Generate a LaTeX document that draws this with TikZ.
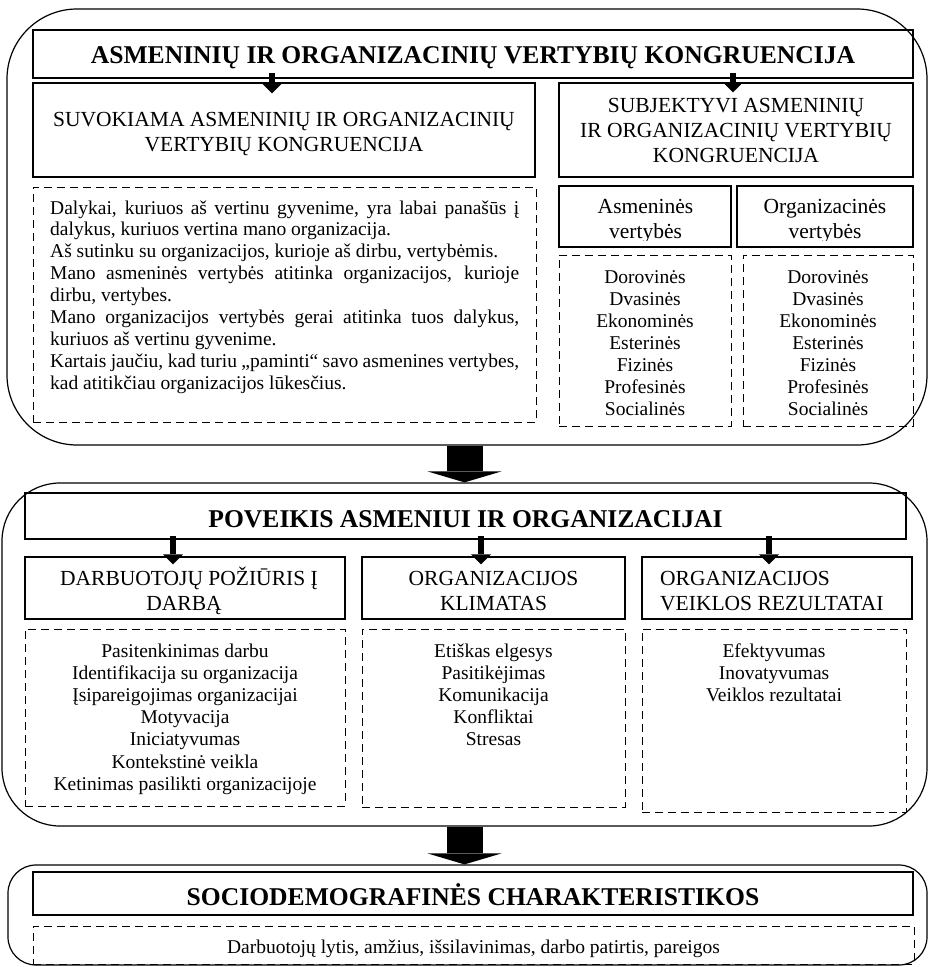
\documentclass[tikz,border=0pt]{standalone}
\usepackage{fontspec}
\setmainfont{Liberation Serif}
\usetikzlibrary{arrows.meta,fit}

% type sizes
\newcommand\ftitle{\fontsize{25.6pt}{30pt}\selectfont\bfseries}
\newcommand\fhead{\fontsize{21.5pt}{25pt}\selectfont}
\newcommand\fitem{\fontsize{19.5pt}{22pt}\selectfont}
\newcommand\fpara{\fontsize{19.5pt}{21.9pt}\selectfont}
% stacked lines, baseline on the first line
\newcommand\cstack[1]{\begin{tabular}[t]{@{}c@{}}#1\end{tabular}}
\newcommand\lstack[1]{\begin{tabular}[t]{@{}l@{}}#1\end{tabular}}

\begin{document}
\begin{tikzpicture}[x=1pt,y=-1pt,
  frame/.style={draw, line width=1.2pt, rounded corners=#1, inner sep=0pt},
  titlebox/.style={draw, line width=2pt, inner sep=0pt},
  headbox/.style={draw, line width=1.2pt, inner sep=0pt},
  listbox/.style={draw, line width=1pt, dash pattern=on 8pt off 5pt, inner sep=0pt},
  txt/.style={inner sep=0pt, anchor=base},
  smallarrow/.style={line width=6.5pt, -{Triangle[width=20pt,length=10pt,line width=0pt]}},
  bigarrow/.style={line width=36pt, -{Triangle[width=74pt,length=11pt,line width=0pt]}}
]
\useasboundingbox (0,0) rectangle (928,967);

% ---------- block 1 ----------
\node[frame=70pt, fit={(7,9) (927,445)}] (f1) {};
\node[titlebox, fit={(33,30) (913,78)}] (t1) {};
\node[txt, font=\ftitle] (t1txt) at (473,63) {ASMENINIŲ IR ORGANIZACINIŲ VERTYBIŲ KONGRUENCIJA};

\node[headbox, fit={(33,83) (535,177)}] (suv) {};
\node[txt, font=\fhead] (suvtxt) at (284,126) {\cstack{SUVOKIAMA ASMENINIŲ IR ORGANIZACINIŲ\\VERTYBIŲ KONGRUENCIJA}};

\node[headbox, fit={(559,83) (913,177)}] (subj) {};
\node[txt, font=\fhead] (subjtxt) at (736,112) {\cstack{SUBJEKTYVI ASMENINIŲ\\IR ORGANIZACINIŲ VERTYBIŲ\\KONGRUENCIJA}};

\node[listbox, fit={(33,187) (536,422)}] (suvd) {};
\node[inner sep=0pt, anchor=base west, font=\fpara] (suvlist) at (50,214) {\parbox[t]{469pt}{\setlength\parindent{0pt}%
\makebox[469pt][s]{Dalykai, kuriuos aš vertinu gyvenime, yra labai panašūs į}\\
dalykus, kuriuos vertina mano organizacija.\\
Aš sutinku su organizacijos, kurioje aš dirbu, vertybėmis.\\
\makebox[469pt][s]{Mano asmeninės vertybės atitinka organizacijos, kurioje}\\
dirbu, vertybes.\\
\makebox[469pt][s]{Mano organizacijos vertybės gerai atitinka tuos dalykus,}\\
kuriuos aš vertinu gyvenime.\\
\makebox[469pt][s]{Kartais jaučiu, kad turiu „paminti“ savo asmenines vertybes,}\\
kad atitikčiau organizacijos lūkesčius.}};

% small value boxes; their lower text line is cut at the baseline
\node[headbox, fit={(559,186) (731,247)}] (asm) {};
\node[headbox, fit={(737,186) (913,247)}] (org) {};
\begin{scope}
  \clip (asm.north west) rectangle ([yshift=7.5pt]asm.south east);
  \node[txt, font=\fhead] (asmtxt) at (645.5,213.5) {\cstack{Asmeninės\\vertybės}};
\end{scope}
\begin{scope}
  \clip (org.north west) rectangle ([yshift=7.5pt]org.south east);
  \node[txt, font=\fhead] (orgtxt) at (825,213.5) {\cstack{Organizacinės\\vertybės}};
\end{scope}

\node[listbox, fit={(559,255) (731,426)}] (asmd) {};
\node[listbox, fit={(743,255) (913,426)}] (orgd) {};
\node[txt, font=\fitem] (asmlist) at (645,283) {\cstack{Dorovinės\\Dvasinės\\Ekonominės\\Esterinės\\Fizinės\\Profesinės\\Socialinės}};
\node[txt, font=\fitem] (orglist) at (828,283) {\cstack{Dorovinės\\Dvasinės\\Ekonominės\\Esterinės\\Fizinės\\Profesinės\\Socialinės}};

\draw[smallarrow] ([xshift=-12pt,yshift=6pt]t1.south -| suv.north) -- ([xshift=-12pt,yshift=-11pt]suv.north);
\draw[smallarrow] ([xshift=-3pt,yshift=6pt]t1.south -| subj.north) -- ([xshift=-3pt,yshift=-10pt]subj.north);

% ---------- block 2 ----------
\node[frame=58pt, fit={(2,483) (927,826)}] (f2) {};
\node[titlebox, fit={(25,493) (906,539)}] (t2) {};
\node[txt, font=\ftitle] (t2txt) at (465.5,527) {POVEIKIS ASMENIUI IR ORGANIZACIJAI};

\node[headbox, fit={(25,557) (345,619)}] (darb) {};
\node[headbox, fit={(362,557) (625,619)}] (klim) {};
\node[headbox, fit={(642,557) (912,619)}] (veik) {};
\node[txt, font=\fhead] (darbtxta) at (189,585) {DARBUOTOJŲ POŽIŪRIS Į};
\node[txt, font=\fhead] (darbtxtb) at (184,610) {DARBĄ};
\node[txt, font=\fhead] (klimtxt) at (493.5,585) {\cstack{ORGANIZACIJOS\\KLIMATAS}};
\node[txt, anchor=base west, font=\fhead] (veiktxt) at (660,585) {\lstack{ORGANIZACIJOS\\VEIKLOS REZULTATAI}};

\node[listbox, fit={(25,629) (345,806)}] (darbd) {};
\node[listbox, fit={(362,629) (625,807)}] (klimd) {};
\node[listbox, fit={(642,629) (906,812)}] (veikd) {};
\node[txt, font=\fontsize{19.5pt}{22.2pt}\selectfont] (darblist) at (185,657) {\cstack{Pasitenkinimas darbu\\Identifikacija su organizacija\\Įsipareigojimas organizacijai\\Motyvacija\\Iniciatyvumas\\Kontekstinė veikla\\Ketinimas pasilikti organizacijoje}};
\node[txt, font=\fontsize{19.5pt}{22.2pt}\selectfont] (klimlist) at (493.5,657) {\cstack{Etiškas elgesys\\Pasitikėjimas\\Komunikacija\\Konfliktai\\Stresas}};
\node[txt, font=\fontsize{19.5pt}{22.2pt}\selectfont] (veiklist) at (774,657) {\cstack{Efektyvumas\\Inovatyvumas\\Veiklos rezultatai}};

\draw[smallarrow] ([xshift=-12pt,yshift=4pt]t2.south -| darb.north) -- ([xshift=-12pt,yshift=-8pt]darb.north);
\draw[smallarrow] ([xshift=-12.5pt,yshift=4pt]t2.south -| klim.north) -- ([xshift=-12.5pt,yshift=-8pt]klim.north);
\draw[smallarrow] ([xshift=-8pt,yshift=4pt]t2.south -| veik.north) -- ([xshift=-8pt,yshift=-8pt]veik.north);

% ---------- block 3 ----------
\node[frame=28pt, fit={(8,865) (927,965)}] (f3) {};
\node[titlebox, fit={(33,872) (913,915)}] (t3) {};
\node[txt, font=\ftitle] (t3txt) at (473,905.5) {SOCIODEMOGRAFINĖS CHARAKTERISTIKOS};
\node[listbox, fit={(33,926) (914,964)}] (sd) {};
\node[txt, font=\fitem] (sdtxt) at (473.5,953) {Darbuotojų lytis, amžius, išsilavinimas, darbo patirtis, pareigos};

% ---------- flow between blocks ----------
\draw[bigarrow] (f1.south -| f2.north) -- (f2.north);
\draw[bigarrow] (f2.south) -- (f2.south |- f3.north);
\end{tikzpicture}
\end{document}
